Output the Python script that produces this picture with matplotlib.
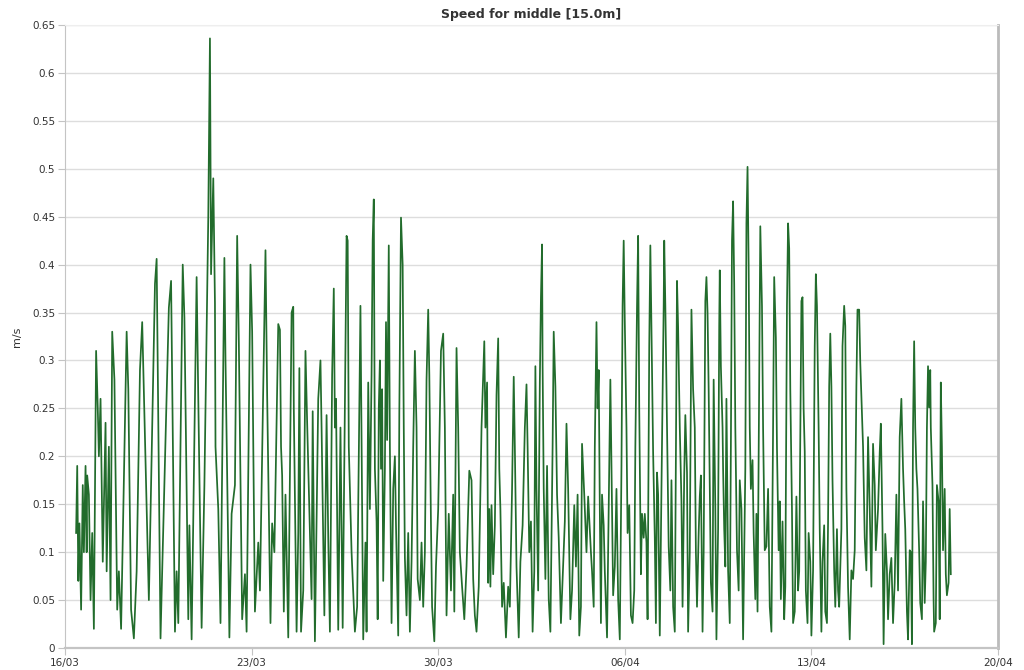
#!/usr/bin/env python3
import matplotlib
matplotlib.use('Agg')
import matplotlib.pyplot as plt
import matplotlib.dates as mdates
import pandas as pd

TITLE = 'Speed for middle [15.0m]'
Y_LABEL = 'm/s'
START = '2014-03-16'
END = '2014-04-20'
X_TICKS = ['2014-03-16', '2014-03-23', '2014-03-30', '2014-04-06', '2014-04-13', '2014-04-20']
Y_TICKS = [0, 0.05, 0.1, 0.15, 0.2, 0.25, 0.3, 0.35, 0.4, 0.45, 0.5, 0.55, 0.6, 0.65]

seg_16_03 = [
    (10, 0.12), (11, 0.19), (12, 0.07), (13, 0.13), (14.5, 0.04), (16, 0.17), (17, 0.10),
    (18.5, 0.19), (19.5, 0.10), (20, 0.18), (21.5, 0.16), (23, 0.05), (24.5, 0.12), (26, 0.02),
    (28, 0.31), (29.5, 0.25), (30.5, 0.20), (32, 0.26), (34, 0.09), (36.5, 0.235), (37.5, 0.08),
    (39.5, 0.21), (41, 0.05), (42.5, 0.33), (44.5, 0.28), (47, 0.04), (48.5, 0.08), (50.5, 0.02),
    (55.5, 0.33), (57, 0.27), (59.5, 0.04), (62, 0.01), (64.5, 0.08), (67.5, 0.29), (69.5, 0.34),
    (75.5, 0.05), (81, 0.38), (82.5, 0.406), (86, 0.01), (87.5, 0.08), (93.5, 0.355),
]
seg_19_03 = [
    (95.5, 0.383), (99, 0.017), (100.5, 0.08), (102, 0.026), (106, 0.40), (107.5, 0.345),
    (111, 0.03), (112, 0.128), (114, 0.009), (118.5, 0.387), (120, 0.26), (123, 0.021),
    (125.5, 0.17), (128, 0.37), (129, 0.45), (130.5, 0.636), (131.5, 0.39), (133.5, 0.49),
    (135, 0.36), (135.5, 0.21), (138, 0.145), (140, 0.026), (143.5, 0.407), (144.5, 0.30),
    (147, 0.10), (148, 0.011), (150, 0.14), (153, 0.17), (155, 0.43), (156.5, 0.32),
    (159.5, 0.03), (162, 0.077), (163.5, 0.017), (167, 0.40), (168.5, 0.33), (171, 0.038),
    (174, 0.11), (175.5, 0.06), (180.5, 0.415), (182, 0.264), (185, 0.026), (186.5, 0.13),
    (188.5, 0.10),
]
seg_24_03 = [
    (192, 0.338), (193.5, 0.332), (194.5, 0.21), (195.5, 0.18), (197, 0.038), (198.5, 0.16),
    (201, 0.011), (204, 0.35), (205.5, 0.356), (206, 0.25), (208.5, 0.017), (210, 0.12),
    (211, 0.292), (212.5, 0.017), (214.5, 0.06), (216.5, 0.31), (218, 0.236), (222, 0.051),
    (223, 0.247), (225, 0.007), (228, 0.26), (230, 0.30), (231, 0.23), (233.5, 0.034),
    (235.5, 0.243), (237, 0.115), (238.5, 0.017), (240.5, 0.285), (242, 0.375), (243, 0.23),
    (244, 0.26), (246, 0.019), (248, 0.23), (250, 0.021), (253.5, 0.43), (254.5, 0.425),
    (255.5, 0.21), (258, 0.10), (261, 0.017), (263, 0.043), (266, 0.357), (268.5, 0.009),
    (270.5, 0.11), (271.5, 0.017), (273, 0.277), (274.5, 0.145), (276, 0.285), (277, 0.425),
    (278, 0.468),
]
seg_27_03 = [
    (279, 0.187), (280.5, 0.132), (281.5, 0.03), (282.5, 0.25), (283.5, 0.30), (284.5, 0.187),
    (285.5, 0.27), (286.5, 0.07), (288, 0.187), (289, 0.34), (290, 0.217), (291.5, 0.42),
    (292.5, 0.21), (294, 0.026), (295.5, 0.166), (297, 0.20), (298, 0.128), (300, 0.013),
    (301, 0.247), (302.5, 0.449), (304, 0.40), (305, 0.23), (306, 0.094), (307.5, 0.034),
    (309, 0.12), (310.5, 0.017), (312, 0.09), (313.5, 0.21), (315, 0.31), (316.5, 0.23),
    (317.5, 0.072), (319.5, 0.05), (321, 0.11), (322.5, 0.043), (324, 0.10), (325.5, 0.28),
    (327, 0.353), (328, 0.285), (329.5, 0.128), (330.5, 0.043), (332.5, 0.007), (334, 0.085),
    (336, 0.145), (338.5, 0.31), (340.5, 0.328), (342, 0.23), (343.5, 0.034), (345.5, 0.14),
    (347.5, 0.06), (349.5, 0.16), (350.5, 0.038), (352.5, 0.313), (354, 0.23), (355.5, 0.10),
    (357.5, 0.064), (359.5, 0.03), (361.5, 0.085), (364, 0.185), (366, 0.175), (367.5, 0.072),
    (369, 0.034), (370.5, 0.017), (372.5, 0.064), (375, 0.23), (377.5, 0.32),
]
seg_31_03 = [
    (378.5, 0.23), (380, 0.277), (381, 0.068), (382, 0.145), (383, 0.064), (384, 0.149),
    (385.5, 0.077), (387, 0.128), (388.5, 0.264), (390, 0.323), (391, 0.187), (392, 0.145),
    (393.5, 0.043), (395, 0.068), (397, 0.011), (399, 0.064), (400.5, 0.043), (402.5, 0.166),
    (404, 0.283), (405, 0.21), (406.5, 0.085), (408.5, 0.011), (410, 0.09), (412, 0.128),
    (414, 0.23), (415.5, 0.275), (416.5, 0.21), (418, 0.10), (419.5, 0.132), (421, 0.017),
    (422.5, 0.08), (423.5, 0.294), (424.5, 0.166), (426, 0.06), (427.5, 0.277), (428.5, 0.366),
    (429.5, 0.421), (430, 0.294), (431, 0.166), (432.5, 0.072), (434, 0.19), (435.5, 0.051),
    (437, 0.017), (439, 0.21), (440, 0.33), (441.5, 0.273), (443, 0.16), (444.5, 0.115),
    (446.5, 0.026), (448, 0.072), (450, 0.132), (451.5, 0.234), (453, 0.166), (455, 0.03),
    (456.5, 0.06), (458.5, 0.149), (460, 0.085), (461.5, 0.16), (463, 0.013), (464.5, 0.043),
    (465.5, 0.213), (467.5, 0.16), (469.5, 0.10), (471, 0.158),
]
seg_04_04 = [
    (473.5, 0.10), (474.5, 0.08), (476, 0.043), (477, 0.21), (478.5, 0.34), (479.5, 0.25),
    (480.5, 0.29), (481.5, 0.145), (482.5, 0.026), (483.5, 0.16), (485, 0.128), (486, 0.08),
    (488, 0.011), (489.5, 0.145), (491, 0.28), (492, 0.187), (493.5, 0.055), (495, 0.085),
    (496.5, 0.166), (498, 0.051), (499.5, 0.009), (501, 0.19), (502, 0.357), (503, 0.425),
    (504, 0.34), (505.5, 0.23), (506.5, 0.12), (508, 0.149), (509.5, 0.034), (511, 0.026),
    (512.5, 0.06), (513.5, 0.21), (515, 0.357), (516, 0.43), (517, 0.25), (518.5, 0.077),
    (519.5, 0.14), (521, 0.115), (522, 0.14), (523.5, 0.11), (524.5, 0.03), (526, 0.315),
    (527, 0.42), (528, 0.332), (529.5, 0.204), (531, 0.115), (532, 0.026), (533, 0.183),
    (534, 0.16), (535.5, 0.013), (537, 0.166), (539, 0.357), (539.5, 0.425), (540.5, 0.357),
    (542, 0.23), (543.5, 0.106), (545, 0.06), (546, 0.175), (547.5, 0.043), (549, 0.017),
    (551, 0.383), (552, 0.335), (553.5, 0.23), (555, 0.153), (556, 0.043), (557.5, 0.18),
    (558.5, 0.243), (560, 0.183), (561, 0.017), (562.5, 0.10), (564, 0.353), (565.5, 0.27),
]
seg_08_04 = [
    (567, 0.23), (568, 0.10), (569, 0.043), (570.5, 0.12), (571.5, 0.158), (572.5, 0.18),
    (574, 0.017), (575, 0.10), (576.5, 0.362), (577.5, 0.387), (578.5, 0.35), (579.5, 0.27),
    (580.5, 0.166), (581.5, 0.068), (583, 0.038), (584, 0.28), (585.5, 0.145), (586.5, 0.009),
    (588, 0.124), (589, 0.336), (589.5, 0.394), (590.5, 0.294), (592, 0.23), (592.5, 0.187),
    (593.5, 0.124), (594.5, 0.085), (595.5, 0.26), (597, 0.081), (598.5, 0.026), (599.5, 0.21),
    (600.5, 0.425), (601.5, 0.466), (602.5, 0.379), (603.5, 0.23), (605, 0.102), (606.5, 0.06),
    (607.5, 0.175), (609, 0.145), (610.5, 0.009), (612.5, 0.187), (613.5, 0.443), (614.5, 0.502),
    (615.5, 0.40), (616.5, 0.23), (617.5, 0.166), (619, 0.196), (620, 0.12), (621.5, 0.051),
    (622.5, 0.14), (623.5, 0.038), (625, 0.27), (626, 0.44), (627.5, 0.357), (628.5, 0.23),
    (630, 0.102), (631.5, 0.106), (633, 0.166), (634.5, 0.043), (636, 0.017), (637.5, 0.23),
    (638.5, 0.387), (640, 0.324), (641, 0.209), (642.5, 0.102), (643.5, 0.153), (644.5, 0.051),
    (646, 0.132), (647.5, 0.03), (648.5, 0.064), (650, 0.357), (651, 0.443), (652, 0.417),
    (653, 0.27), (654.5, 0.145), (655.5, 0.026), (657, 0.038), (658.5, 0.158), (660, 0.06),
    (661, 0.08),
]
seg_12_04 = [
    (663, 0.362), (664, 0.366), (665, 0.25), (666, 0.205), (667, 0.06), (668.5, 0.026),
    (669.5, 0.12), (671, 0.09), (672, 0.013), (673.5, 0.081), (675, 0.315), (676, 0.39),
    (677, 0.357), (678.5, 0.23), (679.5, 0.124), (681, 0.017), (682, 0.09), (683.5, 0.128),
    (684.5, 0.038), (686, 0.026), (687, 0.132), (688, 0.273), (689, 0.328), (690, 0.273),
    (691, 0.175), (692.5, 0.081), (693.5, 0.043), (695, 0.124), (696, 0.06), (697, 0.043),
    (699, 0.124), (700, 0.315), (701.5, 0.357), (702.5, 0.336), (703.5, 0.166), (705, 0.064),
    (706.5, 0.009), (708, 0.081), (709.5, 0.072), (711, 0.102), (712.5, 0.273), (713.5, 0.353),
    (715, 0.353), (716, 0.298), (717, 0.264), (718.5, 0.21), (720, 0.115), (721.5, 0.081),
    (723, 0.22), (724.5, 0.145), (726, 0.064), (727.5, 0.213), (729, 0.17), (730, 0.102),
    (732, 0.145), (733.5, 0.204), (734.5, 0.234), (736, 0.124), (737, 0.004), (738.5, 0.119),
    (740, 0.081), (741, 0.03), (742.5, 0.077), (744, 0.094), (745.5, 0.026), (747, 0.068),
    (748.5, 0.16), (750, 0.06), (751.5, 0.22), (753, 0.26), (754.5, 0.187), (755.5, 0.153),
]
seg_15_04 = [
    (756.5, 0.124), (758, 0.038), (759, 0.009), (760.5, 0.102), (761.5, 0.10), (762.5, 0.004),
    (763.5, 0.23), (764.5, 0.32), (765.5, 0.23), (766.5, 0.187), (767.5, 0.166), (769, 0.102),
    (770, 0.047), (771.5, 0.03), (772.5, 0.153), (774, 0.047), (775, 0.09), (776, 0.23),
    (777, 0.294), (778, 0.251), (779, 0.29), (779.5, 0.23), (781, 0.17), (782, 0.051),
    (782.5, 0.017), (784, 0.026), (785, 0.17), (786.5, 0.153), (787.5, 0.03), (788.5, 0.277),
    (789.5, 0.21), (790.5, 0.102), (792, 0.166), (793, 0.077), (794, 0.055), (795.5, 0.068),
    (796.5, 0.145), (797.5, 0.077),
]
SEGMENTS = [seg_16_03, seg_19_03, seg_24_03, seg_27_03, seg_31_03,
            seg_04_04, seg_08_04, seg_12_04, seg_15_04]

LINE_COLOR = '#226c2c'
GRID_COLOR = '#dddddd'
AXIS_COLOR = '#c4c4c4'
TEXT_COLOR = '#333333'


def main():
    df = pd.DataFrame([p for seg in SEGMENTS for p in seg], columns=['hours', 'speed'])
    df['time'] = pd.Timestamp(START) + pd.to_timedelta(df['hours'], unit='h')

    fig = plt.figure(figsize=(10.24, 6.7), dpi=100)
    ax = fig.add_axes([65 / 1024, 22 / 670, 933 / 1024, 623 / 670])
    ax.plot(df['time'], df['speed'], color=LINE_COLOR, lw=1.25)

    ax.set_xlim(pd.Timestamp(START), pd.Timestamp(END))
    ax.set_ylim(0, 0.65)
    ax.set_yticks(Y_TICKS)
    ax.set_yticklabels([f'{v:g}' for v in Y_TICKS])
    ax.set_xticks(pd.to_datetime(X_TICKS))
    ax.xaxis.set_major_formatter(mdates.DateFormatter('%d/%m'))

    ax.grid(axis='y', color=GRID_COLOR, lw=1)
    ax.set_axisbelow(True)
    for side in ['left', 'bottom']:
        ax.spines[side].set_color(AXIS_COLOR)
    ax.spines['bottom'].set_linewidth(1.6)
    ax.spines['right'].set_color('#bbbbbb')
    ax.spines['right'].set_linewidth(2)
    ax.spines['top'].set_color('#eeeeee')
    ax.tick_params(axis='both', colors=AXIS_COLOR, labelcolor=TEXT_COLOR,
                   labelsize=7.5, length=5, pad=2)

    ax.set_ylabel(Y_LABEL, fontsize=8, color=TEXT_COLOR, labelpad=7)
    ax.set_title(TITLE, fontsize=9, fontweight='bold', color=TEXT_COLOR, pad=5)

    fig.savefig('out.png', dpi=100)
    plt.close(fig)


if __name__ == '__main__':
    main()
